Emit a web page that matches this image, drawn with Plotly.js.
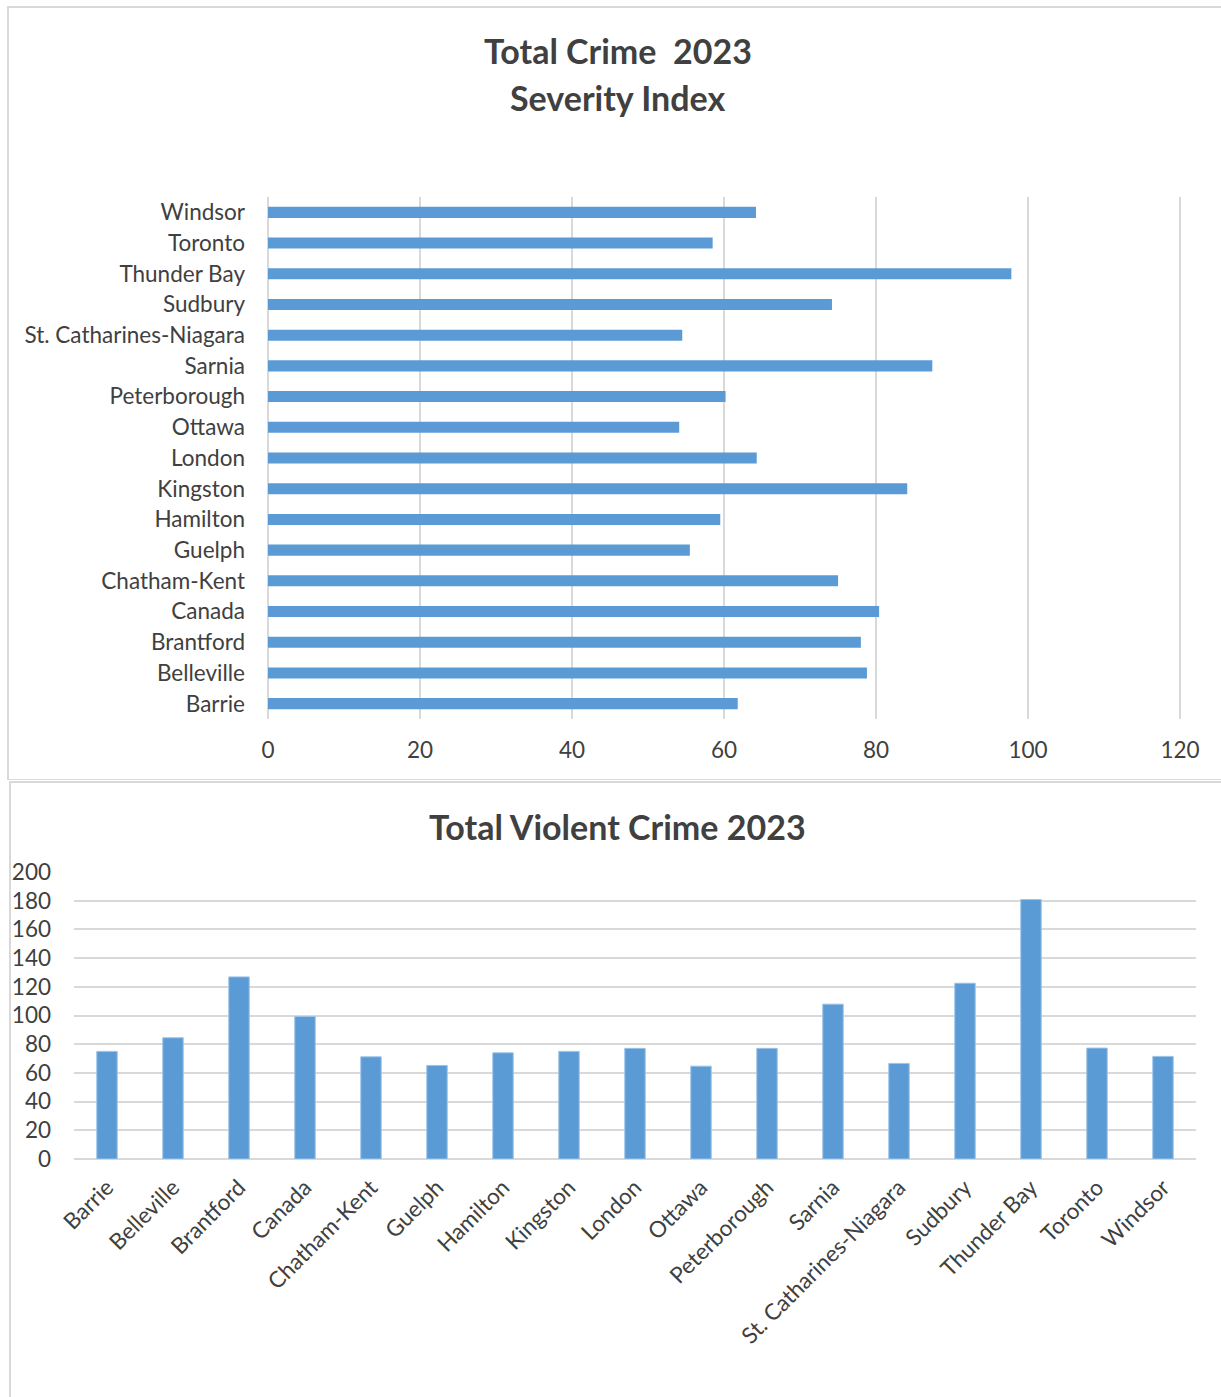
<!DOCTYPE html>
<html>
<head>
<meta charset="utf-8">
<script src="https://cdn.plot.ly/plotly-3.0.1.min.js"></script>
<style>
  body { margin: 0; background: #ffffff; width: 1221px; height: 1397px; position: relative; overflow: hidden; }
  .box { position: absolute; border: 2px solid #d9d9d9; background: #fff; }
  #box1 { left: 7px; top: 6px; width: 1220px; height: 770px; }
  #box2 { left: 9px; top: 781px; width: 1220px; height: 620px; }
  #chart1 { position: absolute; left: 0; top: 0; width: 1213px; height: 771px; }
  #chart2 { position: absolute; left: 0; top: 0; width: 1211px; height: 615px; }
</style>
</head>
<body>
<div class="box" id="box1"><div id="chart1"></div></div>
<div class="box" id="box2"><div id="chart2"></div></div>
<script>
// Data
const categories = ["Barrie", "Belleville", "Brantford", "Canada", "Chatham-Kent", "Guelph", "Hamilton", "Kingston", "London", "Ottawa", "Peterborough", "Sarnia", "St. Catharines-Niagara", "Sudbury", "Thunder Bay", "Toronto", "Windsor"];
const severityIndex = [61.8, 78.8, 78.0, 80.4, 75.0, 55.5, 59.5, 84.1, 64.3, 54.1, 60.2, 87.4, 54.5, 74.2, 97.8, 58.5, 64.2];
const violentCrime = [75.0, 84.5, 126.9, 99.3, 71.2, 65.2, 74.0, 75.0, 77.1, 64.7, 77.1, 107.9, 66.6, 122.5, 180.8, 77.3, 71.5];
const severityTicks = [0, 20, 40, 60, 80, 100, 120];
const violentTicks = [0, 20, 40, 60, 80, 100, 120, 140, 160, 180, 200];

const FONT = "Lato, 'Open Sans', sans-serif";
const TXT = "#404040";
const BAR = "#5b9bd5";
const GRID = "#d9d9d9";
const LBL = 22.5;
const TTL = 34;

// Chart 1: horizontal bars
Plotly.newPlot("chart1", [{
  type: "bar",
  orientation: "h",
  y: categories,
  x: severityIndex,
  marker: { color: BAR },
  hoverinfo: "x+y"
}], {
  width: 1213, height: 771,
  margin: { l: 259, r: 40, t: 189, b: 60, pad: 0 },
  paper_bgcolor: "#ffffff",
  plot_bgcolor: "#ffffff",
  font: { family: FONT, color: TXT, size: LBL },
  bargap: 0.64,
  showlegend: false,
  xaxis: {
    range: [0, 120.25],
    tickvals: severityTicks,
    ticktext: severityTicks.map(String),
    showgrid: true, gridcolor: GRID, gridwidth: 2,
    zeroline: true, zerolinecolor: GRID, zerolinewidth: 2,
    showline: false, ticks: "",
    ticklabelstandoff: 15,
    tickfont: { family: FONT, color: TXT, size: LBL },
    fixedrange: true
  },
  yaxis: {
    type: "category",
    categoryorder: "array",
    categoryarray: categories,
    showgrid: false, zeroline: false, showline: false, ticks: "",
    ticklabelstandoff: 22,
    tickfont: { family: FONT, color: TXT, size: LBL },
    fixedrange: true
  },
  annotations: [
    { text: "<b>Total Crime  2023</b>", xref: "paper", yref: "paper", x: 0.3827, y: 1.2797, xanchor: "center", yanchor: "middle", showarrow: false, font: { family: FONT, color: TXT, size: TTL } },
    { text: "<b>Severity Index</b>", xref: "paper", yref: "paper", x: 0.3827, y: 1.1897, xanchor: "center", yanchor: "middle", showarrow: false, font: { family: FONT, color: TXT, size: TTL } }
  ]
}, { displayModeBar: false, staticPlot: true });

// Chart 2: vertical bars
Plotly.newPlot("chart2", [{
  type: "bar",
  x: categories,
  y: violentCrime,
  marker: { color: BAR, line: { color: "#9dc3e6", width: 1 } },
  hoverinfo: "x+y"
}], {
  width: 1211, height: 615,
  margin: { l: 63, r: 26, t: 89, b: 239, pad: 0 },
  paper_bgcolor: "#ffffff",
  plot_bgcolor: "#ffffff",
  font: { family: FONT, color: TXT, size: LBL },
  bargap: 0.69,
  showlegend: false,
  xaxis: {
    type: "category",
    categoryorder: "array",
    categoryarray: categories,
    tickangle: -45,
    showgrid: false, zeroline: false, showline: false, ticks: "",
    ticklabelstandoff: 10,
    tickfont: { family: FONT, color: TXT, size: LBL },
    fixedrange: true
  },
  yaxis: {
    range: [0, 200],
    tickvals: violentTicks,
    ticktext: violentTicks.map(String),
    showgrid: true, gridcolor: GRID, gridwidth: 2,
    zeroline: true, zerolinecolor: GRID, zerolinewidth: 2,
    showline: false, ticks: "",
    ticklabelstandoff: 22,
    tickfont: { family: FONT, color: TXT, size: LBL },
    fixedrange: true
  },
  annotations: [
    { text: "<b>Total Violent Crime 2023</b>", xref: "paper", yref: "paper", x: 0.4848, y: 1.1568, xanchor: "center", yanchor: "middle", showarrow: false, font: { family: FONT, color: TXT, size: TTL } }
  ]
}, { displayModeBar: false, staticPlot: true });
</script>
</body>
</html>
